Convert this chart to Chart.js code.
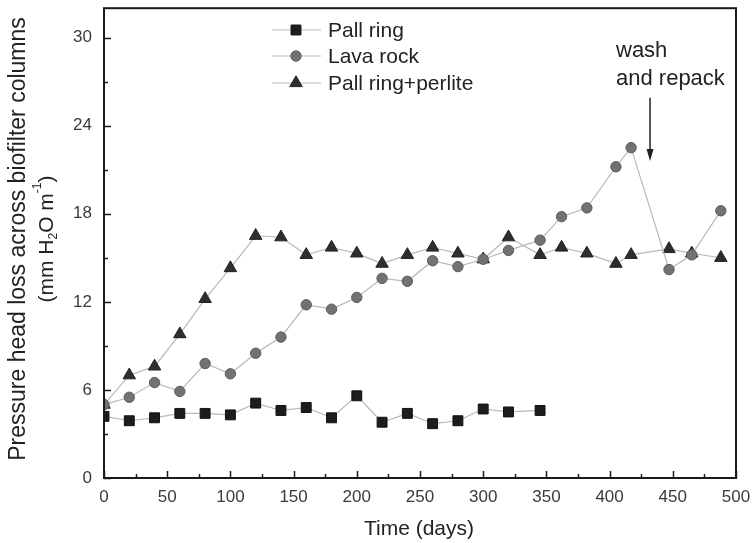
<!DOCTYPE html>
<html>
<head>
<meta charset="utf-8">
<script src="https://cdn.jsdelivr.net/npm/chart.js@4.4.1/dist/chart.umd.min.js"></script>
<style>
  html, body { margin: 0; padding: 0; background: #fff; }
  #wrap { width: 753px; height: 543px; }
</style>
</head>
<body>
<div id="wrap"><canvas id="c" width="753" height="543"></canvas></div>
<script>
// data
const seriesNames = ['Pall ring', 'Lava rock', 'Pall ring+perlite'];

const pallDays = [0, 20, 40, 60, 80, 100, 120, 140, 160, 180, 200, 220, 240, 260, 280, 300, 320, 345];
const pallRing = [4.2, 3.9, 4.1, 4.4, 4.4, 4.3, 5.1, 4.6, 4.8, 4.1, 5.6, 3.8, 4.4, 3.7, 3.9, 4.7, 4.5, 4.6];

const mediaDays = [0, 20, 40, 60, 80, 100, 120, 140, 160, 180, 200, 220, 240, 260, 280, 300, 320, 345,
  362, 382, 405, 417, 447, 465, 488];
const lavaRock = [5.0, 5.5, 6.5, 5.9, 7.8, 7.1, 8.5, 9.6, 11.8, 11.5, 12.3, 13.6, 13.4, 14.8, 14.4, 14.9, 15.5, 16.2,
  17.8, 18.4, 21.2, 22.5, 14.2, 15.2, 18.2];
const perlite = [5.0, 7.0, 7.6, 9.8, 12.2, 14.3, 16.5, 16.4, 15.2, 15.7, 15.3, 14.6, 15.2, 15.7, 15.3, 14.9, 16.4, 15.2,
  15.7, 15.3, 14.6, 15.2, 15.6, 15.3, 15.0];

const xTicks = [0, 50, 100, 150, 200, 250, 300, 350, 400, 450, 500];
const yTicks = [0, 6, 12, 18, 24, 30];

// annotation: arrow at day ~432 from 25.9 down to 21.6
const washDay = 432;
const washFrom = 25.9, washTo = 21.6;

const FONT = '"Liberation Sans", Arial, sans-serif';
const lineGrey = '#b9b9b9';

const toXY = (xs, ys) => xs.map((x, i) => ({ x: x, y: ys[i] }));

const styles = [
  { shape: 'rect', radius: 7, fill: '#1c1c1c', border: '#111' },
  { shape: 'circle', radius: 5.2, fill: '#727272', border: '#5a5a5a' },
  { shape: 'triangle', radius: 7.2, fill: '#2e2e2e', border: '#222' }
];

const datasets = [
  toXY(pallDays, pallRing),
  toXY(mediaDays, lavaRock),
  toXY(mediaDays, perlite)
].map((d, i) => ({
  label: seriesNames[i],
  data: d,
  showLine: true,
  borderColor: lineGrey,
  borderWidth: 1.2,
  pointStyle: styles[i].shape,
  pointRadius: styles[i].radius,
  pointBackgroundColor: styles[i].fill,
  pointBorderColor: styles[i].border,
  pointBorderWidth: 1,
  tension: 0
}));

const decor = {
  id: 'decor',
  afterDraw(chart) {
    const ctx = chart.ctx;
    const a = chart.chartArea;
    const xs = chart.scales.x, ys = chart.scales.y;
    ctx.save();

    // frame
    ctx.strokeStyle = '#1a1a1a';
    ctx.lineWidth = 2;
    ctx.strokeRect(a.left, a.top, a.right - a.left, a.bottom - a.top);

    // inward ticks, major + minor
    ctx.lineWidth = 1.5;
    ctx.beginPath();
    for (let v = 0; v <= 500; v += 25) {
      const px = Math.round(xs.getPixelForValue(v)) + 0.5;
      const len = v % 50 === 0 ? 7 : 4;
      ctx.moveTo(px, a.bottom);
      ctx.lineTo(px, a.bottom - len);
    }
    for (let v = 0; v <= 30; v += 3) {
      const py = Math.round(ys.getPixelForValue(v)) + 0.5;
      const len = v % 6 === 0 ? 7 : 4;
      ctx.moveTo(a.left, py);
      ctx.lineTo(a.left + len, py);
    }
    ctx.stroke();

    // axis titles
    ctx.fillStyle = '#222';
    ctx.font = '21px ' + FONT;
    ctx.textAlign = 'center';
    ctx.textBaseline = 'middle';
    ctx.fillText('Time (days)', 419, 529);

    ctx.font = '23px ' + FONT;
    ctx.save();
    ctx.translate(19, 239);
    ctx.rotate(-Math.PI / 2);
    ctx.fillText('Pressure head loss across biofilter columns', 0, 0);
    ctx.restore();

    // second title line with sub/superscript
    ctx.save();
    ctx.translate(47, 239);
    ctx.rotate(-Math.PI / 2);
    const parts = [
      { t: '(mm H', s: 21, dy: 0 },
      { t: '2', s: 12, dy: 7 },
      { t: 'O m', s: 21, dy: 0 },
      { t: '-1', s: 12, dy: -9 },
      { t: ')', s: 21, dy: 0 }
    ];
    let total = 0;
    parts.forEach(p => { ctx.font = p.s + 'px ' + FONT; total += ctx.measureText(p.t).width; });
    let cx = -total / 2;
    ctx.textAlign = 'left';
    parts.forEach(p => {
      ctx.font = p.s + 'px ' + FONT;
      ctx.fillText(p.t, cx, p.dy);
      cx += ctx.measureText(p.t).width;
    });
    ctx.restore();

    // legend
    ctx.font = '21px ' + FONT;
    ctx.textAlign = 'left';
    ctx.textBaseline = 'middle';
    const rows = [30, 56, 83];
    chart.data.datasets.forEach((ds, i) => {
      const y = rows[i];
      ctx.strokeStyle = lineGrey;
      ctx.lineWidth = 1.2;
      ctx.beginPath();
      ctx.moveTo(272, y);
      ctx.lineTo(321, y);
      ctx.stroke();
      ctx.fillStyle = ds.pointBackgroundColor;
      ctx.strokeStyle = ds.pointBorderColor;
      ctx.lineWidth = 1;
      Chart.helpers.drawPoint(ctx, {
        pointStyle: ds.pointStyle,
        radius: ds.pointRadius,
        borderWidth: 1
      }, 296, y);
      ctx.fillStyle = '#222';
      ctx.fillText(ds.label, 328, y + 1);
    });

    // wash and repack annotation
    ctx.fillStyle = '#222';
    ctx.font = '22px ' + FONT;
    ctx.textAlign = 'left';
    ctx.fillText('wash', 616, 51);
    ctx.fillText('and repack', 616, 79);
    const ax = xs.getPixelForValue(washDay);
    const y1 = ys.getPixelForValue(washFrom), y2 = ys.getPixelForValue(washTo);
    ctx.strokeStyle = '#222';
    ctx.lineWidth = 1.5;
    ctx.beginPath();
    ctx.moveTo(ax, y1);
    ctx.lineTo(ax, y2 - 8);
    ctx.stroke();
    ctx.beginPath();
    ctx.moveTo(ax, y2);
    ctx.lineTo(ax - 3.5, y2 - 12);
    ctx.lineTo(ax + 3.5, y2 - 12);
    ctx.closePath();
    ctx.fill();

    ctx.restore();
  }
};

new Chart(document.getElementById('c'), {
  type: 'scatter',
  data: { datasets: datasets },
  options: {
    responsive: false,
    animation: false,
    events: [],
    layout: { padding: { left: 0, right: 17, top: 7, bottom: 0 } },
    plugins: { legend: { display: false }, tooltip: { enabled: false } },
    scales: {
      x: {
        type: 'linear',
        min: 0,
        max: 500,
        grid: { display: false, drawTicks: false },
        border: { display: false },
        afterBuildTicks: s => { s.ticks = xTicks.map(v => ({ value: v })); },
        afterFit: s => { s.height = 65; s.paddingLeft = 0; s.paddingRight = 0; },
        ticks: { padding: 9, color: '#3a3a3a', font: { family: FONT, size: 17 }, maxRotation: 0 }
      },
      y: {
        type: 'linear',
        min: 0,
        max: 32,
        grid: { display: false, drawTicks: false },
        border: { display: false },
        afterBuildTicks: s => { s.ticks = yTicks.map(v => ({ value: v })); },
        afterFit: s => { s.width = 104; s.paddingTop = 0; s.paddingBottom = 0; },
        ticks: { padding: 12, color: '#3a3a3a', font: { family: FONT, size: 17 } }
      }
    }
  },
  plugins: [decor]
});
</script>
</body>
</html>
